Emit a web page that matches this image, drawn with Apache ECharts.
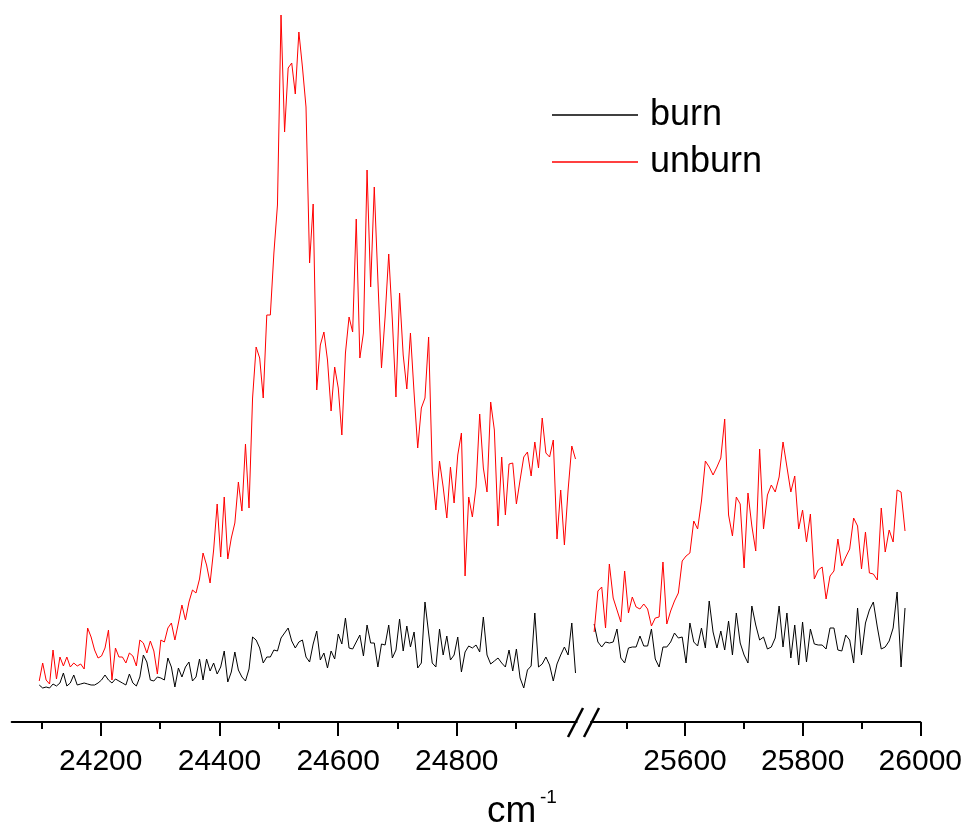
<!DOCTYPE html>
<html><head><meta charset="utf-8">
<script src="https://cdn.jsdelivr.net/npm/echarts@6/dist/echarts.min.js"></script>
<style>html,body{margin:0;padding:0;background:#fff}#c{width:969px;height:827px}</style>
</head><body><div id="c"></div>
<script>
// Spectra sampled every 0.1 nm; x axis in wavenumber (cm^-1), broken between the two windows
const leftWavelengthStart = 415.0;   // nm
const leftWavelengthEnd = 400.0;
const rightWavelengthStart = 393.0;
const rightWavelengthEnd = 385.0;
const wavelengthStep = 0.1;

const unburnLeft = [41,59,42,38,72,43,65,56,65,55, 59,56,58,53,94,85,72,64,66,74,
  92,42,74,65,65,59,69,66,56,82, 79,69,81,71,48,82,80,94,99,82,
  99,117,102,120,132,129,143,169,157,139, 172,218,165,225,163,184,199,240,211,278,
  214,324,375,364,324,407,407,469,517,707, 590,654,659,628,690,655,615,459,518,332,
  377,390,362,311,355,334,287,369,405,390, 503,364,389,552,435,535,442,354,405,468,
  402,325,429,367,333,389,329,274,314,324, 385,252,212,261,235,204,255,219,267,289,
  146,225,205,235,308,254,230,320,292,196, 265,207,258,259,218,242,265,270,246,280,
  254,304,269,265,282,183,232,177,232,276, 263];
const burnLeft = [37,34,35,34,38,36,39,49,36,39, 47,37,38,39,38,37,37,39,42,47,
  42,39,43,41,39,37,48,39,36,45, 67,60,42,41,45,44,42,64,55,35,
  54,45,55,60,41,45,63,42,63,51, 59,48,55,71,40,50,70,52,45,41,
  53,85,82,74,59,65,65,72,71,84, 89,94,81,74,80,82,65,60,78,91,
  62,69,54,71,63,88,78,104,74,73, 80,87,66,97,79,79,55,78,77,97,
  64,72,103,71,96,75,90,54,59,120, 89,59,55,93,67,86,62,67,85,50,
  70,76,74,77,70,105,67,58,61,64, 59,55,72,51,73,44,34,52,56,109,
  55,58,65,57,41,58,67,75,67,99, 49];
const unburnRight = [90,131,135,94,158,124,112,100,151,109, 125,115,113,118,113,96,104,105,160,98,
  111,121,129,161,166,169,201,193,221,261, 255,247,255,264,303,207,186,225,218,154,
  229,196,171,273,193,227,237,230,245,280, 255,230,246,193,212,180,208,143,152,155,
  123,146,151,183,156,165,173,204,196,153, 190,149,148,142,214,170,192,180,232,230, 191];
const burnRight = [98,80,75,80,79,80,93,64,59,74, 75,75,86,76,76,93,63,55,75,75,
  80,89,84,85,59,99,80,76,94,74, 121,90,74,91,72,101,67,109,79,67,
  59,116,97,82,85,73,75,84,116,75, 109,64,97,57,100,60,93,78,77,77,
  73,94,94,72,71,87,82,59,114,67, 99,112,120,95,73,75,81,94,130,55, 114];

const leftMajorTicks = [24200, 24400, 24600, 24800];
const leftMinorTicks = [24100, 24300, 24500, 24700, 24900];
const rightMajorTicks = [25600, 25800, 26000];
const rightMinorTicks = [25500, 25700, 25900];
const legendNames = ['burn', 'unburn'];
const axisTitle = 'cm';
const axisTitleSup = '-1';

function wavenumbers(start, count) {
  const out = [];
  for (let i = 0; i < count; i++) {
    const lam = Math.round((start - i * wavelengthStep) * 10) / 10;
    out.push(1e7 / lam);
  }
  return out;
}
const xLeft = wavenumbers(leftWavelengthStart, burnLeft.length);
const xRight = wavenumbers(rightWavelengthStart, burnRight.length);
const pair = (xs, ys) => ys.map((v, i) => [xs[i], v]);

const FONT = '"Liberation Sans", Arial, sans-serif';
const BLACK = '#000000', RED = '#ff0000';

function mainAxis(grid, min, max, major) {
  return {
    gridIndex: grid, type: 'value', min: min, max: max, position: 'bottom',
    axisLine: { show: true, onZero: false, lineStyle: { color: '#000', width: 2 } },
    axisTick: { show: true, length: 14, lineStyle: { color: '#000', width: 2 }, customValues: major },
    axisLabel: { show: true, customValues: major, margin: 25, fontSize: 30, fontFamily: FONT, color: '#000',
      formatter: v => String(v) },
    splitLine: { show: false }
  };
}
function minorAxis(grid, min, max, minor) {
  return {
    gridIndex: grid, type: 'value', min: min, max: max, position: 'bottom',
    axisLine: { show: false, onZero: false },
    axisTick: { show: true, length: 7, lineStyle: { color: '#000', width: 2 }, customValues: minor },
    axisLabel: { show: false },
    splitLine: { show: false }
  };
}

const chart = echarts.init(document.getElementById('c'), null, { renderer: 'canvas' });
chart.setOption({
  animation: false,
  backgroundColor: '#fff',
  grid: [
    { left: 11.7, width: 565, top: 10, height: 712 },
    { left: 591, width: 329.3, top: 10, height: 712 }
  ],
  xAxis: [
    mainAxis(0, 24050, 25002, leftMajorTicks),
    minorAxis(0, 24050, 25002, leftMinorTicks),
    mainAxis(1, 25440, 26000, rightMajorTicks),
    minorAxis(1, 25440, 26000, rightMinorTicks)
  ],
  yAxis: [
    { gridIndex: 0, type: 'value', min: 0, max: 712, show: false },
    { gridIndex: 1, type: 'value', min: 0, max: 712, show: false }
  ],
  legend: {
    data: legendNames, orient: 'vertical', left: 552, top: 97, padding: 0,
    icon: 'rect', itemWidth: 86, itemHeight: 1.3, itemGap: 11,
    textStyle: { fontSize: 36, lineHeight: 36, fontFamily: FONT, color: '#000', padding: [0, 0, 0, 7] }
  },
  series: [
    { name: legendNames[0], type: 'line', xAxisIndex: 0, yAxisIndex: 0, data: pair(xLeft, burnLeft),
      showSymbol: false, symbol: 'none', color: BLACK, lineStyle: { color: BLACK, width: 1 } },
    { name: legendNames[0], type: 'line', xAxisIndex: 2, yAxisIndex: 1, data: pair(xRight, burnRight),
      showSymbol: false, symbol: 'none', color: BLACK, lineStyle: { color: BLACK, width: 1 } },
    { name: legendNames[1], type: 'line', xAxisIndex: 0, yAxisIndex: 0, data: pair(xLeft, unburnLeft),
      showSymbol: false, symbol: 'none', color: RED, lineStyle: { color: RED, width: 1 } },
    { name: legendNames[1], type: 'line', xAxisIndex: 2, yAxisIndex: 1, data: pair(xRight, unburnRight),
      showSymbol: false, symbol: 'none', color: RED, lineStyle: { color: RED, width: 1 } }
  ],
  graphic: [
    { type: 'line', shape: { x1: 568, y1: 737, x2: 583, y2: 708 }, style: { stroke: '#000', lineWidth: 2.5 } },
    { type: 'line', shape: { x1: 584, y1: 737, x2: 599, y2: 708 }, style: { stroke: '#000', lineWidth: 2.5 } },
    { type: 'text', x: 487, y: 812, style: { text: axisTitle, fontSize: 37, fontFamily: FONT, fill: '#000', verticalAlign: 'middle', align: 'left' } },
    { type: 'text', x: 540, y: 798, style: { text: axisTitleSup, fontSize: 19, fontFamily: FONT, fill: '#000', verticalAlign: 'middle', align: 'left' } }
  ]
});
</script>
</body></html>
